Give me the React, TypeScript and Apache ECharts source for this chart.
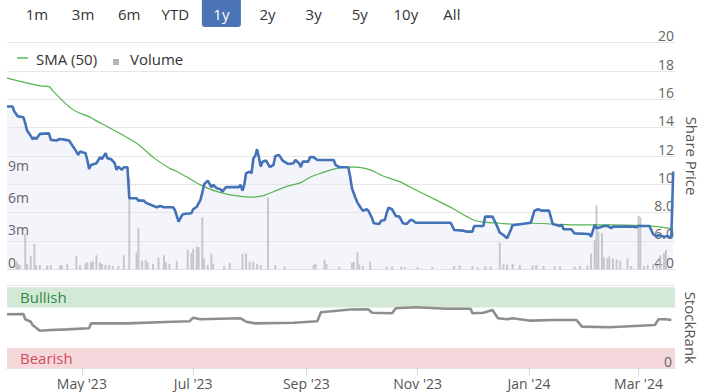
import React, { useEffect, useRef } from 'react';
import * as echarts from 'echarts';

const rangeButtons = ['1m', '3m', '6m', 'YTD', '1y', '2y', '3y', '5y', '10y', 'All'];
const activeButton = '1y';
const monthNames = ['Jan', 'Feb', 'Mar', 'Apr', 'May', 'Jun', 'Jul', 'Aug', 'Sep', 'Oct', 'Nov', 'Dec'];
const xTickDates = ['2023-05-01', '2023-07-01', '2023-09-01', '2023-11-01', '2024-01-01', '2024-03-01'];
const xRange = ['2023-03-21', '2024-03-21'];
const priceTicks = { min: 4, max: 20, interval: 2 };
const volumeTicks = { min: 0, max: 21, interval: 3, lastLabel: 9 };

const priceData: [string, number][] = [
  ['2023-03-21', 15.5], ['2023-03-24', 15.5], ['2023-03-25', 15.14], ['2023-03-27', 14.8], ['2023-03-30', 14.74],
  ['2023-03-31', 14.3], ['2023-04-01', 13.8], ['2023-04-03', 13.42], ['2023-04-04', 13.19], ['2023-04-05', 13.3],
  ['2023-04-06', 13.2], ['2023-04-08', 13.56], ['2023-04-13', 13.6], ['2023-04-14', 13.14], ['2023-04-17', 13.09],
  ['2023-04-19', 13.2], ['2023-04-22', 13.14], ['2023-04-24', 13.09], ['2023-04-26', 12.71], ['2023-04-28', 12.31],
  ['2023-04-29', 12.08], ['2023-04-30', 12.31], ['2023-05-03', 12.2], ['2023-05-04', 11.72], ['2023-05-05', 11.09],
  ['2023-05-06', 11.37], ['2023-05-09', 11.49], ['2023-05-11', 11.92], ['2023-05-12', 11.78], ['2023-05-14', 12.2],
  ['2023-05-15', 11.84], ['2023-05-17', 11.78], ['2023-05-19', 11.49], ['2023-05-20', 11.02], ['2023-05-21', 11.25],
  ['2023-05-23', 11.02], ['2023-05-24', 11.21], ['2023-05-26', 11.21], ['2023-05-27', 9.02], ['2023-05-31', 9.02],
  ['2023-06-01', 8.85], ['2023-06-04', 8.85], ['2023-06-05', 8.71], ['2023-06-08', 8.54], ['2023-06-11', 8.38],
  ['2023-06-13', 8.47], ['2023-06-15', 8.38], ['2023-06-20', 8.38], ['2023-06-21', 8.19], ['2023-06-23', 7.36],
  ['2023-06-25', 7.84], ['2023-06-26', 7.91], ['2023-06-30', 7.96], ['2023-07-01', 8.24], ['2023-07-03', 8.42],
  ['2023-07-05', 8.9], ['2023-07-06', 9.41], ['2023-07-07', 10.0], ['2023-07-09', 10.26], ['2023-07-11', 9.8],
  ['2023-07-12', 9.96], ['2023-07-14', 9.72], ['2023-07-16', 9.65], ['2023-07-17', 9.48], ['2023-07-19', 9.8],
  ['2023-07-26', 9.8], ['2023-07-27', 9.96], ['2023-07-28', 9.56], ['2023-07-29', 9.96], ['2023-07-30', 10.78],
  ['2023-08-01', 10.9], ['2023-08-02', 10.78], ['2023-08-03', 11.84], ['2023-08-04', 12.0], ['2023-08-05', 12.48],
  ['2023-08-06', 11.91], ['2023-08-07', 11.25], ['2023-08-08', 11.6], ['2023-08-10', 11.68], ['2023-08-12', 11.21],
  ['2023-08-14', 11.37], ['2023-08-15', 12.0], ['2023-08-17', 12.08], ['2023-08-19', 11.68], ['2023-08-22', 11.44],
  ['2023-08-25', 11.49], ['2023-08-26', 11.72], ['2023-08-28', 11.49], ['2023-08-29', 11.21], ['2023-08-30', 11.6],
  ['2023-09-02', 11.6], ['2023-09-03', 11.92], ['2023-09-05', 11.92], ['2023-09-07', 11.72], ['2023-09-16', 11.72],
  ['2023-09-17', 11.37], ['2023-09-19', 11.21], ['2023-09-24', 11.21], ['2023-09-25', 10.55], ['2023-09-26', 9.72],
  ['2023-09-28', 9.02], ['2023-09-29', 8.71], ['2023-10-01', 8.31], ['2023-10-02', 8.14], ['2023-10-04', 8.24],
  ['2023-10-05', 8.14], ['2023-10-07', 7.6], ['2023-10-08', 7.25], ['2023-10-11', 7.2], ['2023-10-12', 7.43],
  ['2023-10-14', 7.48], ['2023-10-15', 7.96], ['2023-10-16', 8.35], ['2023-10-18', 8.24], ['2023-10-20', 7.77],
  ['2023-10-22', 7.72], ['2023-10-24', 7.25], ['2023-10-26', 7.2], ['2023-10-28', 7.48], ['2023-10-29', 7.48],
  ['2023-10-31', 7.29], ['2023-11-19', 7.29], ['2023-11-20', 7.06], ['2023-11-21', 6.78], ['2023-11-26', 6.73],
  ['2023-11-28', 6.66], ['2023-12-01', 6.66], ['2023-12-02', 7.06], ['2023-12-07', 7.06], ['2023-12-08', 7.72],
  ['2023-12-12', 7.72], ['2023-12-14', 7.2], ['2023-12-16', 6.59], ['2023-12-18', 6.42], ['2023-12-20', 6.19],
  ['2023-12-22', 6.78], ['2023-12-23', 7.13], ['2023-12-24', 7.13], ['2024-01-02', 7.29], ['2024-01-03', 7.72],
  ['2024-01-04', 8.14], ['2024-01-06', 8.24], ['2024-01-08', 8.14], ['2024-01-12', 8.14], ['2024-01-14', 7.2],
  ['2024-01-16', 7.13], ['2024-01-18', 7.06], ['2024-01-19', 7.13], ['2024-01-20', 6.83], ['2024-01-24', 6.83],
  ['2024-01-26', 6.54], ['2024-02-03', 6.49], ['2024-02-04', 6.3], ['2024-02-06', 7.13], ['2024-02-07', 6.9],
  ['2024-02-09', 6.97], ['2024-02-11', 7.06], ['2024-02-13', 7.06], ['2024-02-15', 6.9], ['2024-02-16', 7.01],
  ['2024-02-27', 7.01], ['2024-02-29', 6.97], ['2024-03-01', 7.06], ['2024-03-07', 7.06], ['2024-03-09', 6.49],
  ['2024-03-11', 6.3], ['2024-03-12', 6.42], ['2024-03-15', 6.3], ['2024-03-17', 6.35], ['2024-03-18', 6.26],
  ['2024-03-19', 6.35], ['2024-03-20', 10.9],
];

const smaData: [string, number][] = [
  ['2023-03-21', 17.5], ['2023-04-08', 16.95], ['2023-04-13', 16.9], ['2023-04-15', 16.62], ['2023-04-20', 15.96],
  ['2023-04-25', 15.38], ['2023-04-29', 15.07], ['2023-05-04', 14.83], ['2023-05-08', 14.55], ['2023-05-13', 14.2],
  ['2023-05-20', 13.72], ['2023-05-28', 13.14], ['2023-06-02', 12.71], ['2023-06-09', 11.92], ['2023-06-18', 11.14],
  ['2023-06-21', 10.97], ['2023-06-27', 10.55], ['2023-07-07', 9.84], ['2023-07-16', 9.41], ['2023-07-25', 9.18],
  ['2023-08-02', 9.09], ['2023-08-08', 9.18], ['2023-08-14', 9.48], ['2023-08-21', 9.84], ['2023-08-29', 10.12],
  ['2023-09-03', 10.5], ['2023-09-10', 10.83], ['2023-09-16', 11.07], ['2023-09-22', 11.21], ['2023-09-28', 11.21],
  ['2023-10-06', 11.02], ['2023-10-13', 10.59], ['2023-10-22', 10.19], ['2023-10-31', 9.6], ['2023-11-11', 8.9],
  ['2023-11-21', 8.24], ['2023-11-28', 7.72], ['2023-12-03', 7.41], ['2023-12-09', 7.32], ['2023-12-16', 7.25],
  ['2023-12-24', 7.18], ['2024-01-02', 7.25], ['2024-01-14', 7.2], ['2024-01-27', 7.13], ['2024-02-14', 7.13],
  ['2024-03-04', 7.08], ['2024-03-11', 7.01], ['2024-03-20', 6.85],
];

// volume in millions
const volumeData: [string, number][] = [
  ['2023-03-26', 0.77], ['2023-03-27', 0.55], ['2023-03-28', 0.4], ['2023-03-31', 3.27], ['2023-04-01', 0.5],
  ['2023-04-03', 1.24], ['2023-04-05', 2.35], ['2023-04-06', 0.4], ['2023-04-08', 0.4], ['2023-04-12', 0.35],
  ['2023-04-14', 0.38], ['2023-04-19', 0.35], ['2023-04-20', 0.38], ['2023-04-23', 0.5], ['2023-04-28', 1.24],
  ['2023-04-30', 0.38], ['2023-05-03', 0.55], ['2023-05-04', 0.65], ['2023-05-06', 0.65], ['2023-05-07', 0.75],
  ['2023-05-09', 1.3], ['2023-05-11', 0.65], ['2023-05-12', 0.5], ['2023-05-14', 0.4], ['2023-05-16', 0.4],
  ['2023-05-18', 0.3], ['2023-05-21', 0.3], ['2023-05-24', 1.3], ['2023-05-27', 8.45], ['2023-05-31', 1.55],
  ['2023-06-01', 3.8], ['2023-06-03', 0.8], ['2023-06-05', 0.85], ['2023-06-06', 0.65], ['2023-06-09', 0.5],
  ['2023-06-12', 1.1], ['2023-06-15', 1.3], ['2023-06-16', 0.65], ['2023-06-18', 0.5], ['2023-06-22', 0.8],
  ['2023-06-28', 1.8], ['2023-06-30', 1.5], ['2023-07-01', 1.9], ['2023-07-03', 2.1], ['2023-07-04', 2.05],
  ['2023-07-06', 4.8], ['2023-07-07', 1.0], ['2023-07-09', 0.4], ['2023-07-11', 1.45], ['2023-07-12', 0.5],
  ['2023-07-18', 0.3], ['2023-07-21', 0.6], ['2023-07-28', 1.45], ['2023-07-30', 1.45], ['2023-08-01', 0.7],
  ['2023-08-03', 0.7], ['2023-08-05', 0.5], ['2023-08-07', 0.4], ['2023-08-11', 6.65], ['2023-08-15', 0.4],
  ['2023-08-20', 0.25], ['2023-09-05', 0.4], ['2023-09-06', 0.5], ['2023-09-11', 0.9], ['2023-09-12', 0.5],
  ['2023-09-19', 0.25], ['2023-09-26', 0.6], ['2023-09-27', 0.7], ['2023-09-29', 1.56], ['2023-09-30', 0.45],
  ['2023-10-02', 0.3], ['2023-10-06', 0.7], ['2023-10-15', 0.25], ['2023-10-18', 0.25], ['2023-10-23', 0.25],
  ['2023-10-25', 0.2], ['2023-11-01', 0.2], ['2023-11-09', 0.2], ['2023-11-21', 0.3], ['2023-11-24', 0.35],
  ['2023-12-01', 0.3], ['2023-12-04', 0.2], ['2023-12-08', 0.3], ['2023-12-11', 0.25], ['2023-12-16', 2.48],
  ['2023-12-18', 0.5], ['2023-12-20', 0.45], ['2023-12-23', 0.5], ['2023-12-27', 0.4], ['2024-01-03', 0.35],
  ['2024-01-05', 0.4], ['2024-01-09', 0.3], ['2024-01-15', 0.3], ['2024-01-18', 0.25], ['2024-01-26', 0.25],
  ['2024-01-29', 0.3], ['2024-02-02', 0.35], ['2024-02-04', 1.45], ['2024-02-06', 2.7], ['2024-02-07', 5.9],
  ['2024-02-08', 3.5], ['2024-02-10', 3.35], ['2024-02-11', 1.1], ['2024-02-13', 1.0], ['2024-02-14', 1.2],
  ['2024-02-16', 1.0], ['2024-02-18', 0.9], ['2024-02-20', 0.8], ['2024-02-24', 1.0], ['2024-02-26', 0.3],
  ['2024-03-01', 4.95], ['2024-03-02', 4.8], ['2024-03-04', 0.3], ['2024-03-06', 0.4], ['2024-03-09', 0.5],
  ['2024-03-11', 0.35], ['2024-03-13', 1.3], ['2024-03-15', 1.5], ['2024-03-16', 1.8],
];

const stockRankData: [string, number][] = [
  ['2023-03-21', 66.7], ['2023-03-30', 67], ['2023-03-31', 60.5], ['2023-04-03', 57.5], ['2023-04-04', 53.5],
  ['2023-04-08', 46.4], ['2023-04-14', 47.3], ['2023-04-23', 48.1], ['2023-05-05', 49.4], ['2023-05-06', 55.5],
  ['2023-05-26', 55.5], ['2023-06-16', 57.2], ['2023-06-29', 58], ['2023-07-01', 62.5], ['2023-07-05', 60.5],
  ['2023-07-27', 61.7], ['2023-07-30', 57.5], ['2023-08-04', 55.5], ['2023-08-25', 56.3], ['2023-09-07', 58],
  ['2023-09-09', 69.1], ['2023-09-25', 72.5], ['2023-10-05', 72.8], ['2023-10-07', 68.6], ['2023-10-18', 67.9],
  ['2023-10-20', 74.1], ['2023-10-31', 75.3], ['2023-11-17', 73.6], ['2023-11-30', 73.6], ['2023-12-01', 67.9],
  ['2023-12-07', 68.6], ['2023-12-12', 72], ['2023-12-15', 61.7], ['2023-12-20', 60.5], ['2023-12-23', 61.7],
  ['2024-01-02', 58.8], ['2024-01-14', 59.6], ['2024-01-27', 59.6], ['2024-01-30', 51.4], ['2024-02-14', 50.6],
  ['2024-03-10', 53.5], ['2024-03-12', 60.5], ['2024-03-16', 60.5], ['2024-03-19', 59.6],
];

const rankBands = { bearish: [0, 25], bullish: [75, 100] };

const FONT = '"Open Sans", "Noto Sans", sans-serif';

function ts(s: string): number {
  const [y, m, d] = s.split('-').map(Number);
  return new Date(y, m - 1, d).getTime();
}
const toPts = (arr: [string, number][]) => arr.map(([d, v]) => [ts(d), v]);

function buildOption(): any {
  const xMin = ts(xRange[0]);
  const xMax = ts(xRange[1]);
  const ticks = xTickDates.map(ts);
  const graphic: any[] = [];
  rangeButtons.forEach((b, i) => {
    const cx = 37 + i * 46.1;
    if (b === activeButton) {
      graphic.push({ type: 'rect', shape: { x: cx - 19.5, y: -4, width: 39, height: 31, r: 3 }, style: { fill: '#4a74b6' } });
    }
    graphic.push({
      type: 'text', x: cx, y: 14,
      style: { text: b, font: `15px ${FONT}`, fill: b === activeButton ? '#ffffff' : '#333333', align: 'center', verticalAlign: 'middle' },
    });
  });
  graphic.push(
    { type: 'line', shape: { x1: 17, y1: 58, x2: 28, y2: 58 }, style: { stroke: '#5cb85c', lineWidth: 1.5 } },
    { type: 'text', x: 36, y: 58.5, style: { text: 'SMA (50)', font: `15px ${FONT}`, fill: '#333333', verticalAlign: 'middle' } },
    { type: 'rect', shape: { x: 113, y: 59, width: 6, height: 6 }, style: { fill: '#b4b4b8' } },
    { type: 'text', x: 130, y: 58.5, style: { text: 'Volume', font: `15px ${FONT}`, fill: '#333333', verticalAlign: 'middle' } },
    { type: 'line', shape: { x1: 7, y1: 285.5, x2: 675, y2: 285.5 }, style: { stroke: '#e6e6e6', lineWidth: 1 } },
  );

  return {
    animation: false,
    backgroundColor: '#ffffff',
    textStyle: { fontFamily: FONT },
    grid: [
      { left: 7, right: 27, top: 42.7, height: 226.6, outerBoundsMode: 'none', containLabel: false },
      { left: 7, right: 27, top: 287.3, height: 81, outerBoundsMode: 'none', containLabel: false },
    ],
    xAxis: [
      {
        type: 'value', gridIndex: 0, min: xMin, max: xMax, scale: true, z: 2,
        axisLine: { show: true, lineStyle: { color: '#e0e0e6' } },
        axisTick: { show: false }, axisLabel: { show: false }, splitLine: { show: false },
      },
      {
        type: 'value', gridIndex: 1, min: xMin, max: xMax, scale: true, z: 6,
        axisLine: { show: true, lineStyle: { color: '#e0e0e6' } },
        axisTick: { show: true, customValues: ticks, length: 8, lineStyle: { color: '#d8d8de' } },
        axisLabel: {
          show: true, customValues: ticks, margin: 8, fontSize: 14, lineHeight: 14, color: '#555555', fontFamily: FONT,
          formatter: (v: number) => {
            const d = new Date(v);
            return `${monthNames[d.getMonth()]} '${String(d.getFullYear()).slice(2)}`;
          },
        },
        splitLine: { show: false },
      },
    ],
    yAxis: [
      {
        type: 'value', gridIndex: 0, position: 'right', min: priceTicks.min, max: priceTicks.max, interval: priceTicks.interval, z: 2,
        name: 'Share Price', nameLocation: 'middle', nameRotate: -90, nameGap: 7,
        nameTextStyle: { fontSize: 15, color: '#555555', fontFamily: FONT },
        axisLine: { show: false }, axisTick: { show: false },
        axisLabel: {
          inside: true, margin: 1, fontSize: 14, color: '#666666', verticalAlign: 'bottom', fontFamily: FONT,
          formatter: (v: number) => (v < 10 ? v.toFixed(1) : String(v)),
        },
        splitLine: { show: true, lineStyle: { color: '#e6e6e6' } },
      },
      {
        type: 'value', gridIndex: 0, position: 'left', min: volumeTicks.min, max: volumeTicks.max, interval: volumeTicks.interval, z: 2,
        axisLine: { show: false }, axisTick: { show: false },
        axisLabel: {
          inside: true, margin: 1, fontSize: 14, color: '#666666', verticalAlign: 'bottom', fontFamily: FONT,
          formatter: (v: number) => (v === 0 ? '0' : v <= volumeTicks.lastLabel ? `${v}m` : ''),
        },
        splitLine: { show: false },
      },
      {
        type: 'value', gridIndex: 1, position: 'right', min: 0, max: 100, interval: 25, z: 6,
        name: 'StockRank', nameLocation: 'middle', nameRotate: -90, nameGap: 7,
        nameTextStyle: { fontSize: 15, color: '#555555', fontFamily: FONT },
        axisLine: { show: false }, axisTick: { show: false },
        axisLabel: {
          inside: true, margin: 3, fontSize: 14, color: '#666666', verticalAlign: 'bottom', fontFamily: FONT,
          formatter: (v: number) => (v === 0 ? '0' : ''),
        },
        splitLine: { show: false },
      },
    ],
    series: [
      {
        name: 'PriceArea', type: 'line', xAxisIndex: 0, yAxisIndex: 0, data: toPts(priceData),
        symbol: 'none', lineStyle: { width: 0 }, areaStyle: { color: '#f3f5fb', opacity: 1 }, z: 1, silent: true,
      },
      {
        name: 'Volume', type: 'bar', xAxisIndex: 0, yAxisIndex: 1, data: toPts(volumeData),
        barWidth: 2, itemStyle: { color: '#c6c7cc' }, z: 3, silent: true,
      },
      {
        name: 'SMA (50)', type: 'line', xAxisIndex: 0, yAxisIndex: 0, data: toPts(smaData),
        symbol: 'none', smooth: 0.3, lineStyle: { color: '#55b44f', width: 1.2 }, z: 4, silent: true,
      },
      {
        name: 'Share Price', type: 'line', xAxisIndex: 0, yAxisIndex: 0, data: toPts(priceData),
        symbol: 'none', lineStyle: { color: '#4472b8', width: 2.6 }, z: 5, silent: true,
      },
      {
        name: 'StockRank', type: 'line', xAxisIndex: 1, yAxisIndex: 2, data: toPts(stockRankData),
        symbol: 'none', lineStyle: { color: '#8e8e8e', width: 2.6 }, z: 4, silent: true,
        markArea: {
          silent: true,
          data: [
            [
              { yAxis: rankBands.bullish[0], itemStyle: { color: '#d4e8d8' }, label: { show: true, position: 'insideLeft', formatter: 'Bullish', color: '#2f8a44', fontSize: 15, fontFamily: FONT, offset: [8, 0] } },
              { yAxis: rankBands.bullish[1] },
            ],
            [
              { yAxis: rankBands.bearish[0], itemStyle: { color: '#f5d8db' }, label: { show: true, position: 'insideLeft', formatter: 'Bearish', color: '#d24b5c', fontSize: 15, fontFamily: FONT, offset: [8, 0] } },
              { yAxis: rankBands.bearish[1] },
            ],
          ],
        },
      },
    ],
    graphic,
  };
}

export default function App() {
  const ref = useRef<HTMLDivElement>(null);
  useEffect(() => {
    const chart = echarts.init(ref.current!, null, { renderer: 'svg' });
    chart.setOption(buildOption());
    return () => chart.dispose();
  }, []);
  return (
    <div
      ref={ref}
      style={{ position: 'fixed', left: 0, top: 0, width: 702, height: 392, background: '#ffffff' }}
    />
  );
}
